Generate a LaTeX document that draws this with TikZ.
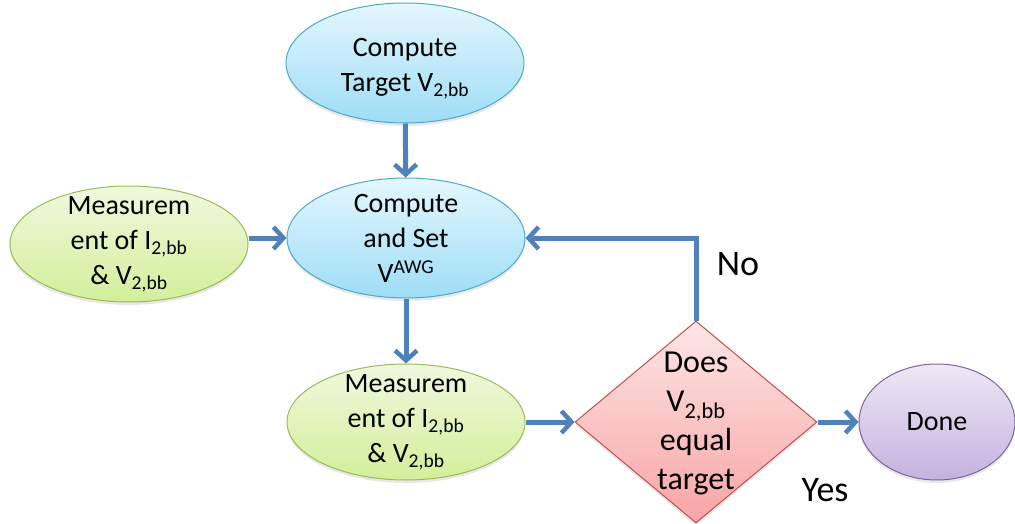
\documentclass[tikz,border=0pt]{standalone}
\usepackage{fontspec}
\setmainfont{Carlito}
\usetikzlibrary{shapes.geometric,arrows.meta,shadows}

\definecolor{flowblue}{HTML}{4F81BD}
\definecolor{cyanline}{HTML}{4BACC6}
\definecolor{cyantop}{HTML}{E4F7FE}
\definecolor{cyanbot}{HTML}{9EDDF6}
\definecolor{greenline}{HTML}{9BBB59}
\definecolor{greentop}{HTML}{F0F8DE}
\definecolor{greenbot}{HTML}{D3EF9A}
\definecolor{redline}{HTML}{C0504D}
\definecolor{redtop}{HTML}{FDE6E6}
\definecolor{redbot}{HTML}{F8A4A4}
\definecolor{violetline}{HTML}{8064A2}
\definecolor{violettop}{HTML}{EEE8F5}
\definecolor{violetbot}{HTML}{C4B2DE}

\tikzset{
  shade/.style={drop shadow={opacity=0.18,shadow xshift=0pt,shadow yshift=-3pt}},
  oval/.style={ellipse,inner sep=0pt,line width=1pt,shade,
    minimum width=#1*2pt},
  cyanoval/.style={oval=119,minimum height=120pt,draw=cyanline,
    top color=cyantop,bottom color=cyanbot},
  greenoval/.style={oval=119,minimum height=116pt,draw=greenline,
    top color=greentop,bottom color=greenbot},
  doneoval/.style={oval=78,minimum height=116pt,draw=violetline,
    top color=violettop,bottom color=violetbot},
  decision/.style={diamond,inner sep=0pt,line width=1pt,shade,
    minimum width=242pt,minimum height=202pt,draw=redline,
    top color=redtop,bottom color=redbot},
  txt/.style={align=center,font=\fontsize{28}{35}\selectfont,inner sep=0pt},
  dectxt/.style={align=center,font=\fontsize{32}{39}\selectfont,inner sep=0pt},
  bigtxt/.style={font=\fontsize{36}{40}\selectfont,inner sep=0pt},
  arr/.style={draw=flowblue,line width=5pt,
    -{Straight Barb[length=10pt,width=22pt,line width=4.5pt]}},
}

\begin{document}
\begin{tikzpicture}[x=1pt,y=-1pt]
  \useasboundingbox (0,0) rectangle (1015,524);

  % process steps
  \node[cyanoval] (target) at (405,63) {};
  \node[txt] (targettxt) at (405,69) {Compute\\Target V\textsubscript{2,bb}};

  \node[cyanoval] (setv) at (406,238) {};
  \node[txt] (setvtxt) at (setv.center) {Compute\\and Set\\V\textsuperscript{AWG}};

  \node[greenoval] (meas1) at (129,244) {};
  \node[txt] (meas1txt) at (meas1.center) {Measurem\\ent of I\textsubscript{2,bb}\\\& V\textsubscript{2,bb}};

  \node[greenoval] (meas2) at (406,422) {};
  \node[txt] (meas2txt) at (meas2.center) {Measurem\\ent of I\textsubscript{2,bb}\\\& V\textsubscript{2,bb}};

  \node[decision] (check) at (696,422) {};
  \node[dectxt] (checktxt) at (696,423) {Does\\V\textsubscript{2,bb}\\equal\\target};

  \node[doneoval] (done) at (937,422) {};
  \node[txt] (donetxt) at (done.center) {Done};

  % branch labels
  \node[bigtxt] (no) at (738,264) {No};
  \node[bigtxt] (yes) at (825,490) {Yes};

  % connectors
  \draw[arr] (target) -- (setv);
  \draw[arr] (meas1.east |- setv) -- (setv.west);
  \draw[arr] (setv) -- (meas2);
  \draw[arr] (meas2) -- (check);
  \draw[arr] (check) -- (done);
  \draw[arr] (check.north) |- (setv.east);
\end{tikzpicture}
\end{document}
